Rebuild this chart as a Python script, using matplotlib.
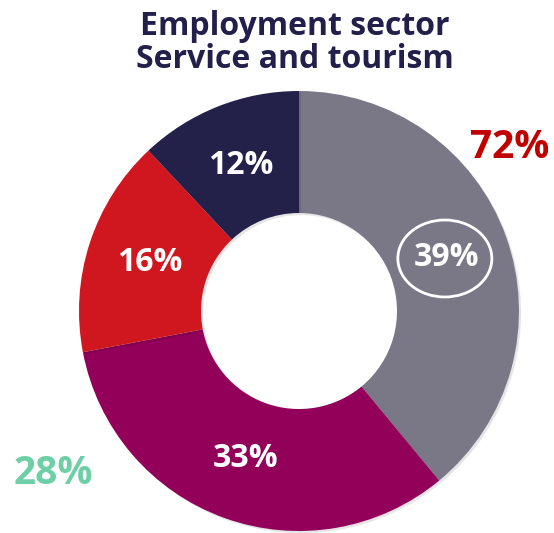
import numpy as np
import matplotlib.pyplot as plt
import matplotlib.patheffects as pe
from matplotlib.patches import Ellipse

plt.rcParams['font.family'] = ['Open Sans', 'DejaVu Sans']

title = "Employment sector\nService and tourism"
shares = [39, 33, 16, 12]
labels = ["39%", "33%", "16%", "12%"]
colors = ["#7a7886", "#93005a", "#d0171f", "#23214a"]
outer_labels = ["72%", "28%"]
outer_colors = ["#c00000", "#6ecfa7"]

fig = plt.figure(figsize=(5.54, 5.33), dpi=100)
ax = fig.add_axes([0, 0, 1, 1])

cx, cy = 299, 222
R = 220
wedges, _ = ax.pie(shares, colors=colors, startangle=90, counterclock=False,
                   center=(cx, cy), radius=R, frame=True,
                   wedgeprops=dict(width=R - 98, linewidth=0))
for w in wedges:
    w.set_path_effects([pe.SimplePatchShadow(offset=(1.5, -1.5), shadow_rgbFace="#000000", alpha=0.1),
                        pe.Normal()])

ax.set_xlim(0, 554)
ax.set_ylim(0, 533)
ax.set_aspect("equal")
ax.axis("off")

# percentage labels in the middle of the ring
start = 90
for val, lab in zip(shares, labels):
    mid = np.deg2rad(start - val * 3.6 / 2)
    start -= val * 3.6
    x = cx + 157 * np.cos(mid)
    y = cy + 157 * np.sin(mid)
    ax.text(x, y, lab, color="white", fontsize=23, fontweight="bold",
            ha="center", va="center")

# highlight ring around the first share
mid0 = np.deg2rad(90 - shares[0] * 3.6 / 2)
ax.add_patch(Ellipse((cx + 155 * np.cos(mid0), cy + 155 * np.sin(mid0)), 94, 77,
                     fill=False, edgecolor="white", linewidth=2))

ax.text(510, 386, outer_labels[0], color=outer_colors[0], fontsize=28,
        fontweight="bold", ha="center", va="center")
ax.text(53, 59, outer_labels[1], color=outer_colors[1], fontsize=28,
        fontweight="bold", ha="center", va="center")

ax.text(295, 490, title, color="#22204a", fontsize=23, fontweight="bold",
        ha="center", va="center", linespacing=1.0)

fig.savefig("out.png", dpi=100)
